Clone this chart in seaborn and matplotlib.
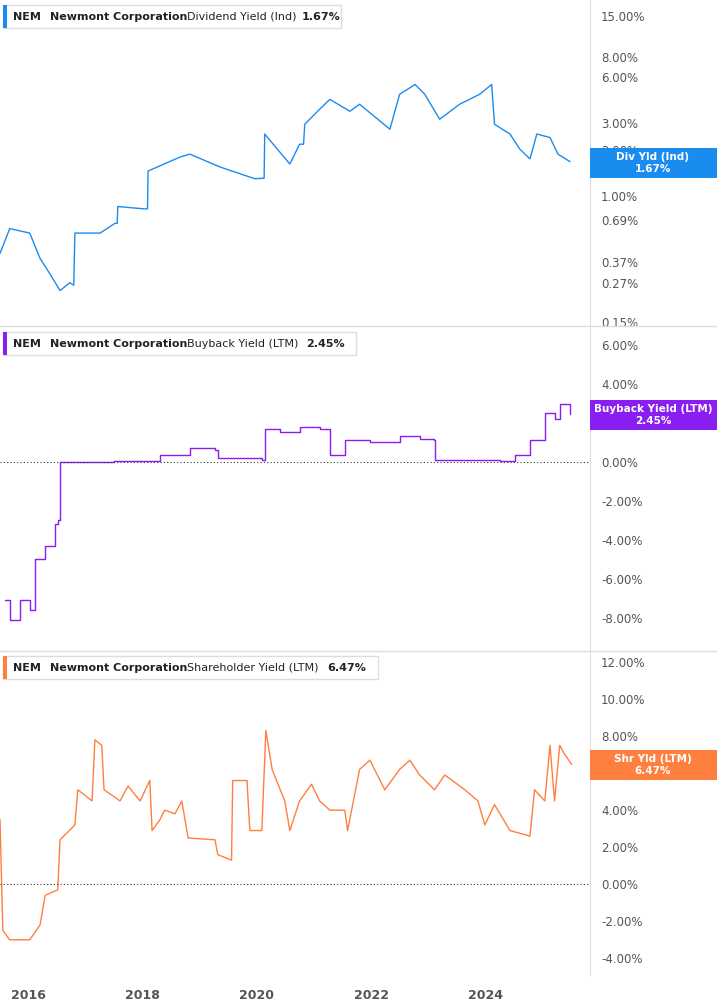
import matplotlib.pyplot as plt
import matplotlib.patches as patches
import seaborn as sns
import numpy as np
import pandas as pd

# Dividend yield (%), decimal years
div_years = [2015.51, 2015.68, 2016.03, 2016.21, 2016.38, 2016.56, 2016.73, 2016.80, 2016.82, 2017.26,
             2017.52, 2017.56, 2017.57, 2018.04, 2018.09, 2018.10, 2018.66, 2018.83, 2019.36, 2019.97,
             2020.09, 2020.13, 2020.14, 2020.58, 2020.75, 2020.82, 2020.84, 2021.10, 2021.28, 2021.63,
             2021.80, 2022.33, 2022.50, 2022.77, 2022.94, 2023.20, 2023.55, 2023.90, 2024.11, 2024.16,
             2024.43, 2024.60, 2024.78, 2024.90, 2025.13, 2025.27, 2025.48]
div_vals = [0.42, 0.61, 0.57, 0.39, 0.31, 0.24, 0.27, 0.26, 0.57, 0.57,
            0.66, 0.66, 0.85, 0.82, 0.82, 1.45, 1.79, 1.87, 1.54, 1.29,
            1.30, 1.30, 2.53, 1.61, 2.17, 2.17, 2.93, 3.67, 4.26, 3.56,
            3.96, 2.72, 4.60, 5.33, 4.60, 3.16, 3.96, 4.60, 5.33, 2.93,
            2.53, 2.02, 1.74, 2.53, 2.40, 1.87, 1.67]

# Buyback yield (%)
bb_years = [2015.60, 2015.68, 2015.86, 2016.03, 2016.12, 2016.30, 2016.47, 2016.52, 2016.55, 2016.56,
            2017.50, 2018.30, 2018.31, 2018.83, 2019.27, 2019.32, 2020.09, 2020.14, 2020.40, 2020.75,
            2021.10, 2021.28, 2021.54, 2021.98, 2022.50, 2022.85, 2023.11, 2023.12, 2024.25, 2024.51,
            2024.78, 2025.04, 2025.21, 2025.30, 2025.48]
bb_vals = [-7.1, -8.1, -7.1, -7.6, -5.0, -4.3, -3.2, -3.0, -3.0, 0.0,
           0.05, 0.1, 0.35, 0.7, 0.6, 0.2, 0.1, 1.65, 1.5, 1.8,
           1.65, 0.35, 1.1, 1.0, 1.3, 1.15, 1.1, 0.1, 0.05, 0.35,
           1.1, 2.5, 2.2, 2.95, 2.45]

# Shareholder yield (%)
sh_years = [2015.51, 2015.56, 2015.68, 2016.03, 2016.21, 2016.30, 2016.52, 2016.56, 2016.82, 2016.87,
            2017.12, 2017.17, 2017.29, 2017.33, 2017.61, 2017.75, 2017.96, 2018.13, 2018.17, 2018.31,
            2018.39, 2018.57, 2018.69, 2018.80, 2019.27, 2019.32, 2019.56, 2019.58, 2019.83, 2019.88,
            2020.09, 2020.16, 2020.27, 2020.49, 2020.58, 2020.75, 2020.96, 2021.10, 2021.28, 2021.54,
            2021.59, 2021.80, 2021.98, 2022.24, 2022.50, 2022.68, 2022.85, 2023.11, 2023.29, 2023.64,
            2023.87, 2023.99, 2024.16, 2024.43, 2024.78, 2024.86, 2025.04, 2025.13, 2025.21, 2025.30,
            2025.39, 2025.51]
sh_vals = [3.5, -2.5, -3.0, -3.0, -2.2, -0.6, -0.3, 2.4, 3.2, 5.1,
           4.5, 7.8, 7.5, 5.1, 4.5, 5.3, 4.5, 5.6, 2.9, 3.5,
           4.0, 3.8, 4.5, 2.5, 2.4, 1.6, 1.3, 5.6, 5.6, 2.9,
           2.9, 8.3, 6.2, 4.5, 2.9, 4.5, 5.4, 4.5, 4.0, 4.0,
           2.9, 6.2, 6.7, 5.1, 6.2, 6.7, 5.9, 5.1, 5.9, 5.1,
           4.5, 3.2, 4.3, 2.9, 2.6, 5.1, 4.5, 7.5, 4.5, 7.5,
           7.0, 6.47]

div_ticks = [15, 8, 6, 3, 2, 1, 0.69, 0.37, 0.27, 0.15]
bb_ticks = [6, 4, 2, 0, -2, -4, -6, -8]
sh_ticks = [12, 10, 8, 6, 4, 2, 0, -2, -4]
year_ticks = [2016, 2018, 2020, 2022, 2024]

blue, purple, orange = "#1a8cf0", "#8a1ef0", "#ff7f3f"
grey_txt = "#555555"

sns.set_style("white")
fig = plt.figure(figsize=(7.17, 10.05), dpi=100)
W, H = 717, 1005

def add_axes(top, bottom):
    return fig.add_axes([0, 1 - bottom / H, 590 / W, (bottom - top) / H])

ax1 = add_axes(0, 325)
ax2 = add_axes(327, 650)
ax3 = add_axes(652, 975)

sns.lineplot(x=div_years, y=div_vals, ax=ax1, color=blue, lw=1)
sns.lineplot(x=bb_years, y=bb_vals, ax=ax2, color=purple, lw=1, drawstyle="steps-post")
sns.lineplot(x=sh_years, y=sh_vals, ax=ax3, color=orange, lw=1)

ax1.set_yscale("log")
ax1.set_ylim(0.143, 19)
ax2.set_ylim(-9.65, 6.9)
ax3.set_ylim(-4.9, 12.54)

for ax, ticks in [(ax1, div_ticks), (ax2, bb_ticks), (ax3, sh_ticks)]:
    ax.set_xlim(2015.51, 2025.83)
    ax.yaxis.tick_right()
    ax.set_yticks(ticks)
    ax.set_yticklabels(["{:.2f}%".format(t) for t in ticks])
    ax.yaxis.set_minor_locator(plt.NullLocator())
    ax.tick_params(axis="y", length=0, pad=8, labelsize=8.5, labelcolor=grey_txt)
    for s in ["left", "top", "bottom"]:
        ax.spines[s].set_visible(False)
    ax.spines["right"].set_color("#dddddd")
    ax.set_xticks([])

for ax in (ax2, ax3):
    ax.axhline(0, color="#333333", lw=0.8, ls=(0, (1, 2)))

ax3.set_xticks(year_ticks)
ax3.set_xticklabels([str(y) for y in year_ticks], fontweight="bold", color=grey_txt, fontsize=9)
ax3.tick_params(axis="x", length=0, pad=10)

# panel separators
for yy in (326, 651):
    fig.add_artist(plt.Line2D([0, 1], [1 - yy / H] * 2, color="#dddddd", lw=1))

# title boxes
titles = [(5, "Dividend Yield (Ind)", "1.67%", 302, 341, blue),
          (332, "Buyback Yield (LTM)", "2.45%", 306, 356, purple),
          (656, "Shareholder Yield (LTM)", "6.47%", 327, 378, orange)]
for top, name, val, vx, right, col in titles:
    fig.add_artist(patches.Rectangle((3 / W, 1 - (top + 23) / H), (right - 3) / W, 23 / H,
                                     facecolor="white", edgecolor="#dddddd", lw=1))
    fig.add_artist(patches.Rectangle((3 / W, 1 - (top + 23) / H), 4 / W, 23 / H,
                                     facecolor=col, edgecolor="none"))
    yc = 1 - (top + 11.5) / H
    fig.text(13 / W, yc, "NEM", fontsize=8, fontweight="bold", va="center", color="#222222")
    fig.text(50 / W, yc, "Newmont Corporation", fontsize=8, fontweight="bold", va="center", color="#222222")
    fig.text(187 / W, yc, name, fontsize=8, va="center", color="#222222")
    fig.text(vx / W, yc, val, fontsize=8, fontweight="bold", va="center", color="#222222")

# right value labels
labels = [(148, "Div Yld (Ind)", "1.67%", blue),
          (400, "Buyback Yield (LTM)", "2.45%", purple),
          (750, "Shr Yld (LTM)", "6.47%", orange)]
for top, name, val, col in labels:
    fig.add_artist(patches.Rectangle((590 / W, 1 - (top + 30) / H), 127 / W, 30 / H,
                                     facecolor=col, edgecolor="none"))
    fig.text(653 / W, 1 - (top + 9) / H, name, fontsize=7.5, fontweight="bold", color="white",
             ha="center", va="center")
    fig.text(653 / W, 1 - (top + 21) / H, val, fontsize=7.5, fontweight="bold", color="white",
             ha="center", va="center")

fig.savefig("out.png", dpi=100)
